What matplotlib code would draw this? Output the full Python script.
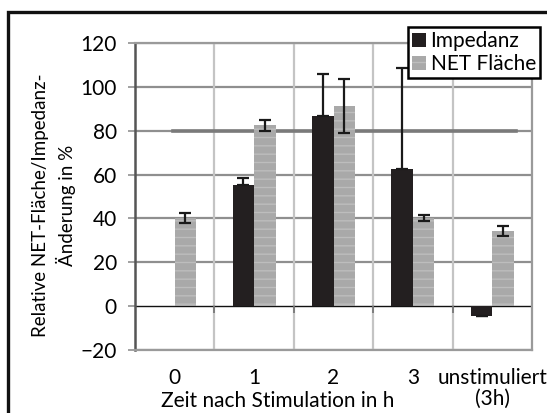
import numpy as np
import matplotlib.pyplot as plt
from matplotlib.patches import Rectangle

plt.rcParams['font.family'] = ['Lato', 'DejaVu Sans']
plt.rcParams['font.size'] = 15
plt.rcParams['hatch.linewidth'] = 1.0

categories = ['0', '1', '2', '3', 'unstimuliert\n(3h)']
impedanz = [np.nan, 55.3, 86.7, 62.5, -4.6]
impedanz_err = [np.nan, 3.2, 19.0, 46.0, 0.0]
net_flaeche = [40.0, 82.5, 91.3, 40.2, 34.2]
net_err = [2.3, 2.6, 12.3, 1.3, 2.3]

fig = plt.figure(figsize=(5.47, 4.13), dpi=100)
ax = fig.add_axes([135/547, 1-350/413, 397/547, 307/413])

x = np.arange(len(categories))
w = 0.27

ax.bar(x - w/2, impedanz, w, color='#231f20', label='Impedanz', zorder=3)
ax.bar(x + w/2, net_flaeche, w, color='#a9a9a9', edgecolor='#bdbdbd', linewidth=0,
       hatch='--', label='NET Fläche', zorder=3)
err_kw = dict(fmt='none', ecolor='#1a1a1a', elinewidth=1.6, capsize=4, capthick=1.6, zorder=4)
ax.errorbar(x - w/2, impedanz, yerr=[np.zeros(5), impedanz_err], **err_kw)
ax.errorbar(x + w/2, net_flaeche, yerr=net_err, **err_kw)

ax.set_ylim(-20, 120)
ax.set_xlim(-0.5, 4.5)
ax.set_yticks(np.arange(-20, 121, 20))
for v in range(-20, 121, 20):
    if v != 0:
        ax.axhline(v, color='#8f8f8f', lw=1.6, zorder=1)
ax.axhline(80, xmin=0.096, xmax=0.96, color='#7a7a7a', lw=2.6, zorder=1.5)
for b in [0.5, 1.5, 2.5, 3.5]:
    ax.axvline(b, color='#c4c4c4', lw=1.6, zorder=1)
ax.axhline(0, color='#111111', lw=1.0, zorder=2)
ax.vlines([0.5, 1.5, 2.5, 3.5, 4.5], -3.2, 0, color='#777777', lw=1.3, zorder=2)

ax.set_xticks(x)
ax.set_xticklabels(categories, linespacing=1.05)
ax.tick_params(axis='x', length=0, pad=13)
ax.tick_params(axis='y', length=5, width=1.3, color='#9a9a9a', pad=8)
for s in ['top', 'right', 'bottom']:
    ax.spines[s].set_color('#9a9a9a')
    ax.spines[s].set_linewidth(1.6)
ax.spines['left'].set_color('#555555')
ax.spines['left'].set_linewidth(1.8)

fig.text(278/547, 1-401/413, 'Zeit nach Stimulation in h', ha='center', va='center')
fig.text(54/547, 1-205/413, 'Relative NET-Fläche/Impedanz-\nÄnderung in %',
         rotation=90, ha='center', va='center', multialignment='center',
         linespacing=1.35, fontsize=13.5)

leg = ax.legend(loc='upper right', bbox_to_anchor=(540/547, 1-27/413),
                bbox_transform=fig.transFigure, borderaxespad=0, fancybox=False,
                handlelength=0.7, handleheight=0.7, handletextpad=0.2,
                borderpad=0.2, labelspacing=0.15, framealpha=1)
leg.get_frame().set_edgecolor('black')
leg.get_frame().set_linewidth(1.8)
leg.set_zorder(10)

fig.patches.append(Rectangle((8/547, -0.1), 2, 1.1 - 12/413, transform=fig.transFigure,
                             fill=False, edgecolor='#111111', lw=2.4))

fig.savefig('out.png', dpi=100)
